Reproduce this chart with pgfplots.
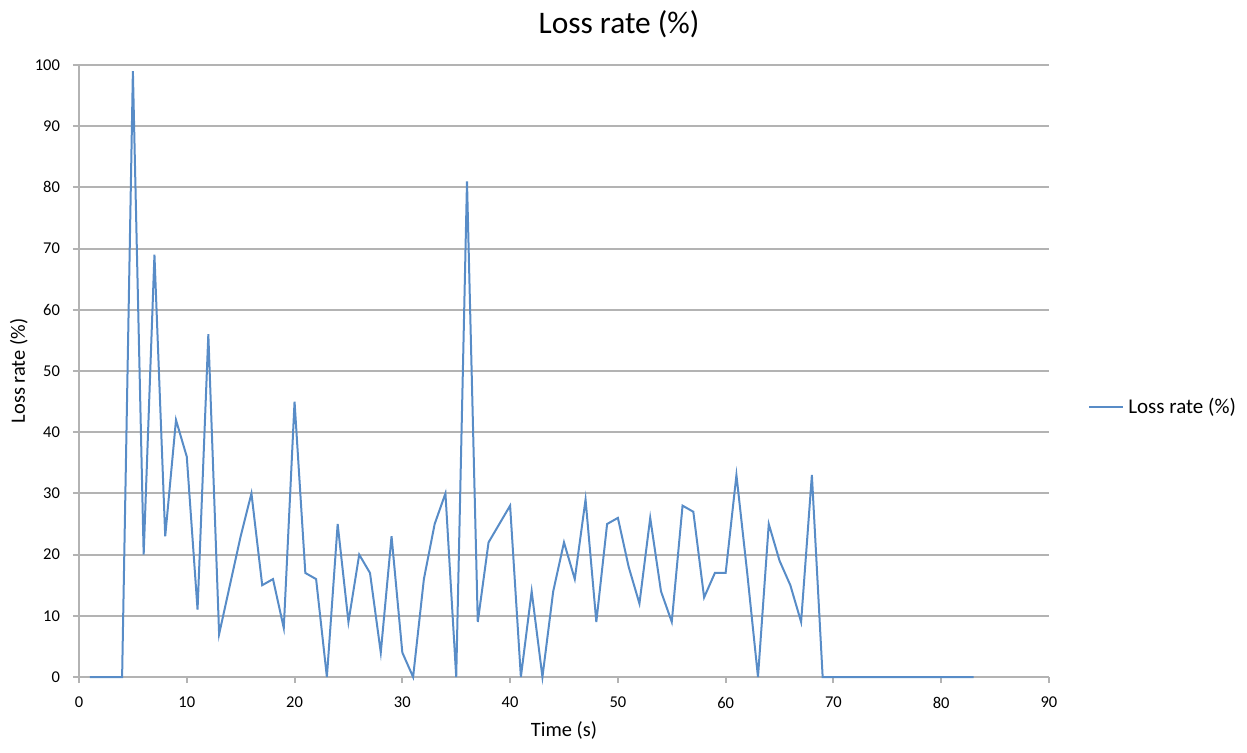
\documentclass[border=0pt]{standalone}
\usepackage{fontspec}
\setmainfont{Carlito}
\usepackage{pgfplots}
\pgfplotsset{compat=1.18}
\definecolor{lossblue}{RGB}{88,140,199}
\definecolor{gridgray}{RGB}{179,179,179}
\begin{document}
\begin{tikzpicture}
\path[use as bounding box] (0,0) rectangle (623.5pt,376pt);
\begin{axis}[
  at={(39.5pt,37.5pt)}, anchor=south west,
  scale only axis, width=485pt, height=306pt,
  xmin=0, xmax=90, ymin=0, ymax=100,
  xtick={0,10,...,90}, ytick={0,10,...,100},
  axis x line=bottom, axis y line=left,
  axis line style={gridgray, line width=1pt, -},
  tick style={gridgray, line width=1pt},
  tick align=outside, major tick length=3pt,
  ymajorgrids, grid style={gridgray, line width=1pt},
  /pgf/number format/assume math mode=true,
  ticklabel style={font=\fontsize{8.25}{10}\selectfont},
  xticklabel style={yshift=-3.5pt},
  yticklabel style={xshift=-3pt},
  every axis title shift=0pt,
  title={Loss rate (\%)},
  title style={at={(0.5567,1.0507)}, anchor=base, font=\fontsize{15.7}{18}\selectfont, inner sep=0pt},
  xlabel={Time (s)},
  xlabel style={at={(0.5,-0.098)}, anchor=base, font=\fontsize{10.2}{12}\selectfont, inner sep=0pt},
  ylabel={Loss rate (\%)},
  ylabel style={at={(-0.0619,0.5)}, anchor=center, rotate=0, font=\fontsize{10.2}{12}\selectfont, inner sep=0pt},
  legend style={at={(1.040,0.441)}, anchor=west, draw=none, fill=none, inner sep=0pt,
    font=\fontsize{10.5}{12}\selectfont},
  legend cell align=left,
  clip=false,
]
\addplot[lossblue, line width=1pt, mark=none] coordinates {
(1,0) (2,0) (3,0) (4,0) (5,99) (6,20) (7,69) (8,23) (9,42) (10,36)
(11,11) (12,56) (13,7) (14,15) (15,23) (16,30) (17,15) (18,16) (19,8) (20,45)
(21,17) (22,16) (23,0) (24,25) (25,9) (26,20) (27,17) (28,4) (29,23) (30,4)
(31,0) (32,16) (33,25) (34,30) (35,0) (36,81) (37,9) (38,22) (39,25) (40,28)
(41,0) (42,14) (43,0) (44,14) (45,22) (46,16) (47,29) (48,9) (49,25) (50,26)
(51,18) (52,12) (53,26) (54,14) (55,9) (56,28) (57,27) (58,13) (59,17) (60,17)
(61,33) (62,17) (63,0) (64,25) (65,19) (66,15) (67,9) (68,33) (69,0) (70,0)
(71,0) (72,0) (73,0) (74,0) (75,0) (76,0) (77,0) (78,0) (79,0) (80,0)
(81,0) (82,0) (83,0)
};
\addlegendentry{Loss rate (\%)}
\end{axis}
\end{tikzpicture}
\end{document}
